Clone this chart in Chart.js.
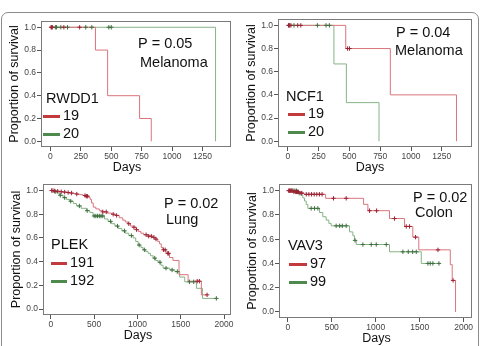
<!DOCTYPE html>
<html>
<head>
<meta charset="utf-8">
<script src="https://cdn.jsdelivr.net/npm/chart.js@4.4.0/dist/chart.umd.min.js"></script>
<style>
  body { margin: 0; background: #fff; width: 481px; height: 346px; overflow: hidden; position: relative; }
  .frame { position: absolute; left: 1px; top: 12px; width: 476px; height: 360px; border: 1.5px solid #8c8c8c; border-radius: 7px; }
  canvas { position: absolute; }
</style>
</head>
<body>
<div class="frame"></div>
<canvas id="chart1"></canvas>
<canvas id="chart2"></canvas>
<canvas id="chart3"></canvas>
<canvas id="chart4"></canvas>
<script>
// labels for the four panels
const geneNames = ['RWDD1', 'NCF1', 'PLEK', 'VAV3'];
const pValues = ['0.05', '0.04', '0.02', '0.02'];
const cancerTypes = ['Melanoma', 'Melanoma', 'Lung', 'Colon'];
const redCounts = [19, 19, 191, 97];
const greenCounts = [20, 20, 192, 99];

// tick labels
const daysTicksShort = [0, 250, 500, 750, 1000, 1250];
const daysTicksLong = [0, 500, 1000, 1500, 2000];
const survTicks = [0, 0.2, 0.4, 0.6, 0.8, 1.0];

// RWDD1 - melanoma
const rwddRedDays = [0, 370, 470, 733, 829];
const rwddRedSurv = [1, 0.8, 0.4, 0.2, 0];
const rwddRedCensor = [5, 10, 15, 110, 240];
const rwddGreenDays = [0, 1358];
const rwddGreenSurv = [1, 0];
const rwddGreenCensor = [40, 50, 85, 140, 290, 340, 480, 500];

// NCF1 - melanoma
const ncfRedDays = [0, 470, 832, 1369];
const ncfRedSurv = [1, 0.8, 0.4, 0];
const ncfRedCensor = [5, 15, 25, 80, 105, 485, 500];
const ncfGreenDays = [0, 374, 475, 740];
const ncfGreenSurv = [1, 0.667, 0.333, 0];
const ncfGreenCensor = [10, 50, 240, 310, 337];

// PLEK - lung
const plekRedDays = [0, 30, 60, 95, 130, 170, 210, 250, 290, 330, 370, 400, 440, 455, 470, 490, 520, 560, 600, 650, 700, 745, 790, 830, 860, 890, 920, 950, 985, 1010, 1040, 1070, 1120, 1170, 1205, 1235, 1255, 1275, 1295, 1330, 1370, 1410, 1480, 1585, 1738, 1804];
const plekRedSurv = [1, 0.997, 0.994, 0.99, 0.987, 0.983, 0.979, 0.975, 0.97, 0.965, 0.958, 0.952, 0.94, 0.925, 0.895, 0.86, 0.845, 0.83, 0.82, 0.81, 0.8, 0.79, 0.77, 0.75, 0.735, 0.72, 0.7, 0.69, 0.67, 0.655, 0.64, 0.627, 0.615, 0.605, 0.59, 0.57, 0.55, 0.52, 0.5, 0.47, 0.435, 0.41, 0.29, 0.235, 0.12, 0.12];
const plekRedCensor = [10, 25, 45, 80, 120, 160, 200, 240, 300, 395, 410, 425, 600, 640, 720, 760, 900, 960, 990, 1100, 1130, 1160, 1190, 1215, 1300, 1320, 1350, 1360, 1690, 1715, 1804];
const plekGreenDays = [0, 30, 65, 100, 142, 180, 219, 260, 296, 350, 412, 450, 488, 620, 660, 700, 740, 780, 820, 860, 900, 950, 980, 1008, 1040, 1065, 1095, 1123, 1150, 1181, 1210, 1238, 1270, 1296, 1373, 1431, 1488, 1546, 1681, 1750, 1911];
const plekGreenSurv = [1, 0.99, 0.98, 0.96, 0.94, 0.925, 0.91, 0.89, 0.87, 0.85, 0.83, 0.815, 0.785, 0.76, 0.74, 0.72, 0.7, 0.68, 0.66, 0.64, 0.62, 0.6, 0.57, 0.54, 0.52, 0.5, 0.485, 0.47, 0.45, 0.43, 0.41, 0.395, 0.37, 0.345, 0.33, 0.316, 0.27, 0.23, 0.175, 0.09, 0.09];
const plekGreenCensor = [50, 110, 160, 230, 330, 420, 500, 520, 540, 560, 580, 600, 690, 770, 850, 930, 1020, 1080, 1200, 1260, 1330, 1400, 1460, 1600, 1650, 1911];

// VAV3 - colon
const vavRedDays = [0, 60, 130, 185, 430, 862, 911, 1157, 1328, 1422, 1490, 1848, 1870, 1908];
const vavRedSurv = [1, 0.99, 0.98, 0.97, 0.937, 0.887, 0.835, 0.77, 0.705, 0.617, 0.512, 0.39, 0.26, 0];
const vavRedCensor = [10, 20, 30, 40, 50, 70, 90, 100, 110, 120, 150, 160, 210, 240, 270, 300, 330, 360, 390, 520, 664, 930, 1010, 1214, 1347, 1385, 1453, 1708, 1880];
const vavGreenDays = [0, 114, 152, 171, 190, 209, 228, 361, 398, 436, 467, 493, 702, 740, 759, 778, 1157, 1518, 1719];
const vavGreenSurv = [1, 0.98, 0.96, 0.94, 0.915, 0.887, 0.854, 0.82, 0.785, 0.757, 0.73, 0.71, 0.66, 0.628, 0.59, 0.556, 0.496, 0.4, 0.4];
const vavGreenCensor = [60, 80, 100, 130, 266, 304, 342, 550, 590, 620, 664, 765, 854, 949, 1006, 1120, 1309, 1370, 1420, 1461, 1594, 1620, 1650, 1719];

const redLine = '#d9747c';
const greenLine = '#86b386';
const redMark = '#9c2233';
const greenMark = '#3f6f3f';
const redKey = '#c23a3c';
const greenKey = '#4e8a4e';
const fontFam = '"Liberation Sans", Arial, Helvetica, sans-serif';

Chart.defaults.font.family = fontFam;
Chart.defaults.animation = false;

function toPoints(days, surv) {
    return days.map((d, i) => ({ x: d, y: surv[i] }));
}

// survival value of the step curve at a given day (where a censor mark sits)
function censorPoints(days, surv, censor) {
    return censor.map(t => {
        let s = surv[0];
        for (let i = 0; i < days.length; i++) {
            if (days[i] <= t) s = surv[i];
        }
        return { x: t, y: s };
    });
}

const panels = [
    { id: 'chart1', box: [41, 21, 190, 126], xMin: -78, xMax: 1485, xTicks: daysTicksShort, daysShift: -9,
      red: [rwddRedDays, rwddRedSurv, rwddRedCensor], green: [rwddGreenDays, rwddGreenSurv, rwddGreenCensor],
      pAt: [97, 23], cAt: [99, 42], gAt: [5, 78], kAt: [2, 95, 22] },
    { id: 'chart2', box: [278, 19, 194, 128], xMin: -80, xMax: 1495, xTicks: daysTicksShort, daysShift: -5,
      red: [ncfRedDays, ncfRedSurv, ncfRedCensor], green: [ncfGreenDays, ncfGreenSurv, ncfGreenCensor],
      pAt: [118, 14], cAt: [117, 32], gAt: [8, 78], kAt: [10, 95, 30] },
    { id: 'chart3', box: [43, 184, 188, 131], xMin: -90, xMax: 2080, xTicks: daysTicksLong, daysShift: 1,
      red: [plekRedDays, plekRedSurv, plekRedCensor], green: [plekGreenDays, plekGreenSurv, plekGreenCensor],
      pAt: [121, 20], cAt: [123, 36], gAt: [8, 61], kAt: [8, 79, 27] },
    { id: 'chart4', box: [279, 184, 193, 134], xMin: -100, xMax: 2095, xTicks: daysTicksLong, daysShift: 1,
      red: [vavRedDays, vavRedSurv, vavRedCensor], green: [vavGreenDays, vavGreenSurv, vavGreenCensor],
      pAt: [134, 14], cAt: [136, 29], gAt: [9, 62], kAt: [10, 80, 31] }
];

const PAD_L = 41, PAD_T = 8, PAD_R = 8, PAD_B = 34;

function makeChart(p, k) {
    const canvas = document.getElementById(p.id);
    canvas.width = p.box[2] + PAD_L + PAD_R;
    canvas.height = p.box[3] + PAD_T + PAD_B;
    canvas.style.left = (p.box[0] - PAD_L) + 'px';
    canvas.style.top = (p.box[1] - PAD_T) + 'px';

    const annot = {
        id: 'annot' + k,
        afterDraw(chart) {
            const c = chart.ctx;
            const a = chart.chartArea;
            c.save();
            // plot box
            c.strokeStyle = '#7a7a7a';
            c.lineWidth = 1;
            c.strokeRect(a.left + 0.5, a.top + 0.5, a.width - 1, a.height - 1);

            c.fillStyle = '#111';
            c.textBaseline = 'middle';
            c.textAlign = 'left';
            c.font = '14.5px ' + fontFam;
            c.fillText('P = ' + pValues[k], a.left + p.pAt[0], a.top + p.pAt[1]);
            c.fillText(cancerTypes[k], a.left + p.cAt[0], a.top + p.cAt[1]);
            c.fillText(geneNames[k], a.left + p.gAt[0], a.top + p.gAt[1]);
            c.fillText(String(redCounts[k]), a.left + p.kAt[2], a.top + p.kAt[1]);
            c.fillText(String(greenCounts[k]), a.left + p.kAt[2], a.top + p.kAt[1] + 18);

            c.lineWidth = 3;
            c.strokeStyle = redKey;
            c.beginPath();
            c.moveTo(a.left + p.kAt[0], a.top + p.kAt[1] + 0.5);
            c.lineTo(a.left + p.kAt[2] - 3, a.top + p.kAt[1] + 0.5);
            c.stroke();
            c.strokeStyle = greenKey;
            c.beginPath();
            c.moveTo(a.left + p.kAt[0], a.top + p.kAt[1] + 18.5);
            c.lineTo(a.left + p.kAt[2] - 3, a.top + p.kAt[1] + 18.5);
            c.stroke();

            // axis titles
            c.font = '12.5px ' + fontFam;
            c.textAlign = 'center';
            c.fillText('Days', a.left + a.width / 2 + p.daysShift, a.bottom + 21);
            c.translate(a.left - 26, a.top + a.height / 2);
            c.rotate(-Math.PI / 2);
            c.fillText('Proportion of survival', 0, 0);
            c.restore();
        }
    };

    const lineStyle = { borderWidth: 1, pointRadius: 0, stepped: true, fill: false };
    const markStyle = { showLine: false, pointStyle: 'cross', pointRadius: 2.2, pointBorderWidth: 1 };

    return new Chart(canvas.getContext('2d'), {
        type: 'line',
        data: {
            datasets: [
                Object.assign({ data: censorPoints(...p.red), borderColor: redMark, backgroundColor: redMark }, markStyle),
                Object.assign({ data: censorPoints(...p.green), borderColor: greenMark, backgroundColor: greenMark }, markStyle),
                Object.assign({ data: toPoints(p.red[0], p.red[1]), borderColor: redLine }, lineStyle),
                Object.assign({ data: toPoints(p.green[0], p.green[1]), borderColor: greenLine }, lineStyle)
            ]
        },
        options: {
            responsive: false,
            maintainAspectRatio: false,
            layout: { padding: { left: 0, top: PAD_T, right: PAD_R, bottom: 0 } },
            plugins: { legend: { display: false }, tooltip: { enabled: false } },
            scales: {
                x: {
                    type: 'linear', min: p.xMin, max: p.xMax,
                    border: { display: false },
                    grid: { drawOnChartArea: false, drawTicks: true, tickLength: 4, color: '#555' },
                    ticks: { padding: 1, maxRotation: 0, autoSkip: false,
                             color: '#444', font: { size: 8.5 }, callback: v => String(v) },
                    afterBuildTicks(scale) { scale.ticks = p.xTicks.map(v => ({ value: v })); },
                    afterFit(scale) { scale.height = PAD_B; }
                },
                y: {
                    min: -0.05, max: 1.055,
                    border: { display: false },
                    grid: { drawOnChartArea: false, drawTicks: true, tickLength: 4, color: '#555' },
                    ticks: { padding: 1, autoSkip: false,
                             color: '#444', font: { size: 8.5 }, callback: v => v.toFixed(1) },
                    afterBuildTicks(scale) { scale.ticks = survTicks.map(v => ({ value: v })); },
                    afterFit(scale) { scale.width = PAD_L; }
                }
            }
        },
        plugins: [annot]
    });
}

panels.forEach((p, k) => makeChart(p, k));
</script>
</body>
</html>
